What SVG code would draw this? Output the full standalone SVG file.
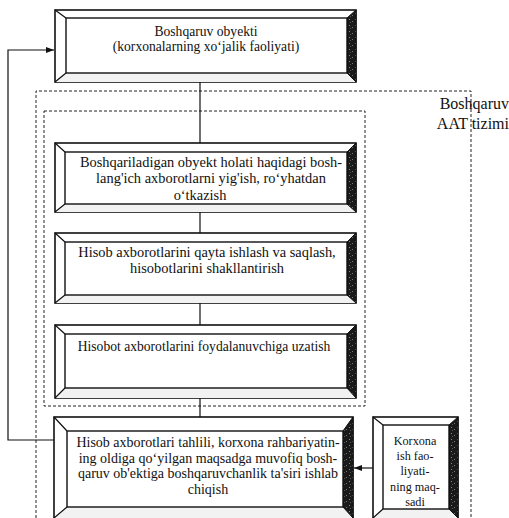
<svg xmlns="http://www.w3.org/2000/svg" width="509" height="518" viewBox="0 0 509 518">
  <defs>
    <style>
      .outer { fill: #fff; stroke: #111; stroke-width: 1.6; }
      .inner { fill: #fff; stroke: #111; stroke-width: 1.4; }
      .shade { fill: url(#grain); stroke: #111; stroke-width: 1; }
      .base { fill: #f2f2f2; stroke: none; }
      .edge { stroke: #111; stroke-width: 1.2; fill: none; }
      .txt { font-family: "Liberation Serif", "Times New Roman", serif; font-size: 13.6px; fill: #111; text-anchor: middle; }
      .wide { font-size: 14.4px; }
      .mid { font-size: 14px; }
      .small { font-size: 12.2px; }
      .lbl { font-family: "Liberation Serif", "Times New Roman", serif; font-size: 16px; fill: #111; text-anchor: end; }
      .link { stroke: #111; stroke-width: 1.2; fill: none; }
      .frame { stroke: #222; stroke-width: 1; fill: none; stroke-dasharray: 3 2; }
    </style>
    <!-- speckled dark texture for the shaded right bevel -->
    <pattern id="grain" width="6" height="6" patternUnits="userSpaceOnUse">
      <rect width="6" height="6" fill="#1a1a1a"/>
      <rect x="1" y="1" width="1" height="1" fill="#888"/>
      <rect x="4" y="3" width="1" height="1" fill="#777"/>
      <rect x="2" y="4" width="1" height="1" fill="#555"/>
    </pattern>
    <marker id="arrow" viewBox="0 0 8 6" refX="8" refY="3" markerWidth="8" markerHeight="6" markerUnits="userSpaceOnUse" orient="auto">
      <path d="M0,0 L8,3 L0,6 Z" fill="#111"/>
    </marker>
  </defs>

  <rect width="509" height="518" fill="#fff"/>

  <!-- system boundaries -->
  <g id="boundaries">
    <path class="frame" d="M36,518 V91 H471 V518"/>
    <rect class="frame" x="44" y="111" width="321" height="295"/>
    <text class="lbl" x="509" y="109">Boshqaruv</text>
    <text class="lbl" x="509" y="129">AAT tizimi</text>
  </g>

  <!-- connectors -->
  <g id="connectors">
    <line class="link" x1="200" y1="82" x2="200" y2="143"/>
    <line class="link" x1="200" y1="212" x2="200" y2="233"/>
    <line class="link" x1="200" y1="303" x2="200" y2="325"/>
    <line class="link" x1="200" y1="398" x2="200" y2="417"/>
    <path class="link" d="M54,440 H8 V50 H54" marker-end="url(#arrow)"/>
    <line class="link" x1="373" y1="468" x2="354" y2="468" marker-end="url(#arrow)"/>
  </g>

  <!-- control object -->
  <g id="node-object">
    <rect class="outer" x="55" y="10" width="301" height="72"/>
    <polygon class="base" points="66,73 347,73 356,82 55,82"/>
    <polygon class="shade" points="347,18 356,10 356,82 347,73"/>
    <rect class="inner" x="66" y="18" width="281" height="55"/>
    <path class="edge" d="M55,10 L66,18 M55,82 L66,73"/>
    <text class="txt" x="206" y="36">Boshqaruv obyekti</text>
    <text class="txt" x="206" y="51">(korxonalarning xo‘jalik faoliyati)</text>
  </g>

  <!-- primary data collection -->
  <g id="node-collect">
    <rect class="outer" x="55" y="143" width="301" height="69"/>
    <polygon class="base" points="65,204 347,204 356,212 55,212"/>
    <polygon class="shade" points="347,152 356,143 356,212 347,204"/>
    <rect class="inner" x="65" y="152" width="282" height="52"/>
    <path class="edge" d="M55,143 L65,152 M55,212 L65,204"/>
    <text class="txt wide" x="211" y="167">Boshqariladigan obyekt holati haqidagi bosh-</text>
    <text class="txt wide" x="211" y="183">lang'ich axborotlarni yig'ish, ro‘yhatdan</text>
    <text class="txt wide" x="200" y="200">o‘tkazish</text>
  </g>

  <!-- processing and storage -->
  <g id="node-process">
    <rect class="outer" x="55" y="233" width="301" height="70"/>
    <polygon class="base" points="65,295 347,295 356,303 55,303"/>
    <polygon class="shade" points="347,242 356,233 356,303 347,295"/>
    <rect class="inner" x="65" y="242" width="282" height="53"/>
    <path class="edge" d="M55,233 L65,242 M55,303 L65,295"/>
    <text class="txt wide" x="207" y="257">Hisob axborotlarini qayta ishlash va saqlash,</text>
    <text class="txt wide" x="207" y="273">hisobotlarini shakllantirish</text>
  </g>

  <!-- delivery to users -->
  <g id="node-deliver">
    <rect class="outer" x="55" y="325" width="301" height="73"/>
    <polygon class="base" points="65,388 347,388 356,398 55,398"/>
    <polygon class="shade" points="347,334 356,325 356,398 347,388"/>
    <rect class="inner" x="65" y="334" width="282" height="54"/>
    <path class="edge" d="M55,325 L65,334 M55,398 L65,388"/>
    <text class="txt" x="204" y="351">Hisobot axborotlarini foydalanuvchiga uzatish</text>
  </g>

  <!-- analysis and control action -->
  <g id="node-analysis">
    <rect class="outer" x="54" y="417" width="299" height="104"/>
    <polygon class="base" points="67,507 343,507 353,518 54,518"/>
    <polygon class="shade" points="343,431 353,417 353,518 343,507"/>
    <rect class="inner" x="67" y="431" width="276" height="76"/>
    <path class="edge" d="M54,417 L67,431 M54,518 L67,507"/>
    <text class="txt mid" x="208" y="447">Hisob axborotlari tahlili, korxona rahbariyatin-</text>
    <text class="txt mid" x="208" y="463">ing oldiga qo‘yilgan maqsadga muvofiq bosh-</text>
    <text class="txt mid" x="208" y="478">qaruv ob'ektiga boshqaruvchanlik ta'siri ishlab</text>
    <text class="txt mid" x="208" y="494">chiqish</text>
  </g>

  <!-- enterprise goal -->
  <g id="node-goal">
    <rect class="outer" x="373" y="417" width="85" height="104"/>
    <polygon class="base" points="383,509 449,509 458,518 373,518"/>
    <polygon class="shade" points="449,425 458,417 458,518 449,509"/>
    <rect class="inner" x="383" y="425" width="66" height="84"/>
    <path class="edge" d="M373,417 L383,425 M373,518 L383,509"/>
    <text class="txt small" x="415" y="445">Korxona</text>
    <text class="txt small" x="415" y="460">ish fao-</text>
    <text class="txt small" x="415" y="475">liyati-</text>
    <text class="txt small" x="415" y="491">ning maq-</text>
    <text class="txt small" x="415" y="506">sadi</text>
  </g>
</svg>
